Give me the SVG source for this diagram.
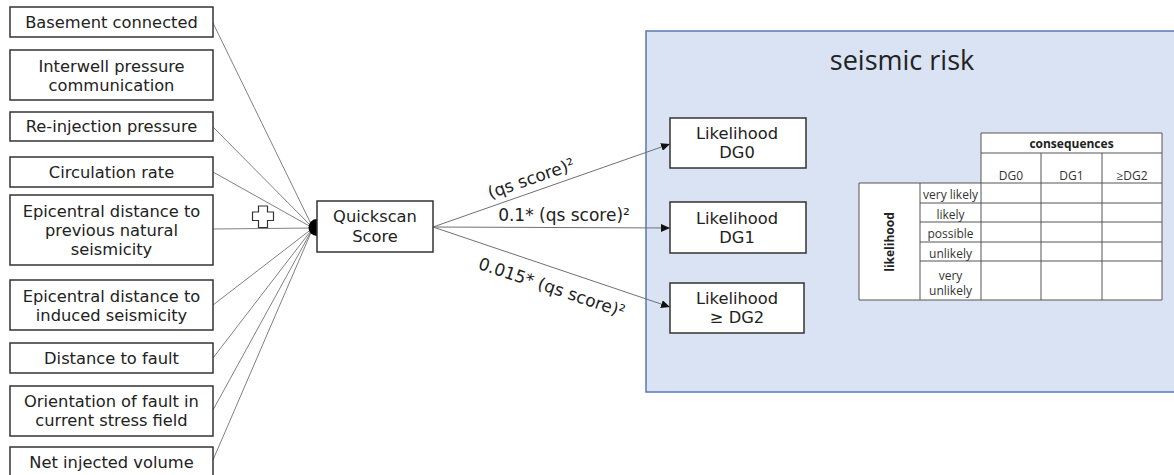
<svg xmlns="http://www.w3.org/2000/svg" width="1174" height="475" viewBox="0 0 1174 475">
<style>
.box{fill:#fff;stroke:#333;stroke-width:1.5}
.t{font-family:"DejaVu Sans",Verdana,sans-serif;font-size:16.3px;fill:#222;text-anchor:middle}
.t16{font-family:"DejaVu Sans",Verdana,sans-serif;font-size:16.3px;fill:#222;text-anchor:middle}
.lbl{font-family:"DejaVu Sans",Verdana,sans-serif;font-size:17px;fill:#222;text-anchor:middle}
.in{stroke:#808080;stroke-width:1;fill:none}
.out{stroke:#707070;stroke-width:1;fill:none}
.grid{stroke:#555;stroke-width:1;fill:none}
.tc{font-family:"Open Sans","Noto Sans",sans-serif;font-size:12px;fill:#333;text-anchor:middle}
.tb{font-family:"Open Sans","Noto Sans",sans-serif;font-size:12px;font-weight:bold;fill:#222;text-anchor:middle}
</style>
<defs>
<marker id="ah" markerWidth="9" markerHeight="8" refX="9" refY="4" orient="auto" markerUnits="userSpaceOnUse">
<path d="M0,0 L9,4 L0,8 Z" fill="#111"/>
</marker>
</defs>
<rect width="1174" height="475" fill="#fff"/>

<g id="panel">
<rect x="646" y="31" width="540" height="361" fill="#dae3f3" stroke="#5b78b3" stroke-width="1.5"/>
<text x="902" y="70" font-family="'Open Sans','Noto Sans',sans-serif" font-size="27" fill="#222" text-anchor="middle">seismic risk</text>
</g>

<g id="connectors">
<line class="in" x1="213" y1="23" x2="313" y2="228"/>
<line class="in" x1="213" y1="127" x2="313" y2="228"/>
<line class="in" x1="213" y1="172" x2="313" y2="228"/>
<line class="in" x1="213" y1="229" x2="313" y2="228"/>
<line class="in" x1="213" y1="305" x2="313" y2="228"/>
<line class="in" x1="213" y1="358" x2="313" y2="228"/>
<line class="in" x1="213" y1="410" x2="313" y2="228"/>
<line class="in" x1="213" y1="460" x2="313" y2="228"/>
<line class="out" x1="433" y1="227" x2="670" y2="144" marker-end="url(#ah)"/>
<line class="out" x1="433" y1="227" x2="670" y2="228" marker-end="url(#ah)"/>
<line class="out" x1="433" y1="227" x2="670" y2="307" marker-end="url(#ah)"/>
<path d="M317,219 A8.5,8.5 0 0 0 317,236 Z" fill="#000"/>
<path d="M258.5,206 H267.5 V212 H273.5 V220.5 H267.5 V227.5 H258.5 V220.5 H252.5 V212 H258.5 Z" fill="#fff" stroke="#333" stroke-width="1.2"/>
<text class="lbl" transform="translate(533,184) rotate(-19.3)">(qs score)²</text>
<text class="lbl" x="564" y="221">0.1* (qs score)²</text>
<text class="lbl" transform="translate(550,293) rotate(18.6)">0.015* (qs score)²</text>
</g>

<g id="n1"><rect class="box" x="10" y="7" width="203" height="30"/><text class="t" x="111.5" y="28">Basement connected</text></g>
<g id="n2"><rect class="box" x="10" y="50" width="203" height="50"/><text class="t" x="111.5" y="72">Interwell pressure</text><text class="t" x="111.5" y="90.5">communication</text></g>
<g id="n3"><rect class="box" x="10" y="112" width="203" height="29"/><text class="t" x="111.5" y="132">Re-injection pressure</text></g>
<g id="n4"><rect class="box" x="10" y="157" width="203" height="30"/><text class="t" x="111.5" y="177.5">Circulation rate</text></g>
<g id="n5"><rect class="box" x="10" y="195" width="203" height="70"/><text class="t" x="111.5" y="216.5">Epicentral distance to</text><text class="t" x="111.5" y="235.5">previous natural</text><text class="t" x="111.5" y="254.5">seismicity</text></g>
<g id="n6"><rect class="box" x="10" y="280" width="203" height="50"/><text class="t" x="111.5" y="301.5">Epicentral distance to</text><text class="t" x="111.5" y="320.5">induced seismicity</text></g>
<g id="n7"><rect class="box" x="10" y="343" width="203" height="30"/><text class="t" x="111.5" y="363.5">Distance to fault</text></g>
<g id="n8"><rect class="box" x="10" y="386" width="203" height="50"/><text class="t" x="111.5" y="407">Orientation of fault in</text><text class="t" x="111.5" y="425.5">current stress field</text></g>
<g id="n9"><rect class="box" x="10" y="447" width="203" height="32"/><text class="t" x="111.5" y="468">Net injected volume</text></g>

<g id="quickscan"><rect class="box" x="317" y="201" width="116" height="51"/><text class="t16" x="375" y="222">Quickscan</text><text class="t16" x="375" y="241.5">Score</text></g>

<g id="dg0"><rect class="box" x="670" y="118" width="136" height="50"/><text class="t16" x="737" y="139">Likelihood</text><text class="t16" x="737" y="158">DG0</text></g>
<g id="dg1"><rect class="box" x="670" y="202" width="136" height="51"/><text class="t16" x="737" y="224">Likelihood</text><text class="t16" x="737" y="243">DG1</text></g>
<g id="dg2"><rect class="box" x="670" y="283" width="134" height="50"/><text class="t16" x="737" y="304">Likelihood</text><text class="t16" x="737" y="323">≥ DG2</text></g>

<g id="matrix">
<rect x="981" y="133" width="181" height="50" fill="#fff"/>
<rect x="859" y="183" width="303" height="117" fill="#fff"/>
<path class="grid" d="M981,133 H1162 V300 H859 V183 H1162 M981,133 V300 M981,153 H1162 M1041,153 V300 M1102,153 V300 M920,183 V300 M920,203 H1162 M920,222 H1162 M920,242 H1162 M920,261 H1162"/>
<text class="tb" x="1071.5" y="148">consequences</text>
<text class="tc" x="1011" y="180">DG0</text>
<text class="tc" x="1071.5" y="180">DG1</text>
<text class="tc" x="1132" y="180">≥DG2</text>
<text class="tb" transform="translate(894,242) rotate(-90)">likelihood</text>
<text class="tc" x="950.5" y="199">very likely</text>
<text class="tc" x="950.5" y="218.5">likely</text>
<text class="tc" x="950.5" y="238">possible</text>
<text class="tc" x="950.5" y="257.5">unlikely</text>
<text class="tc" x="950.5" y="280">very</text>
<text class="tc" x="950.5" y="295">unlikely</text>
</g>
</svg>
